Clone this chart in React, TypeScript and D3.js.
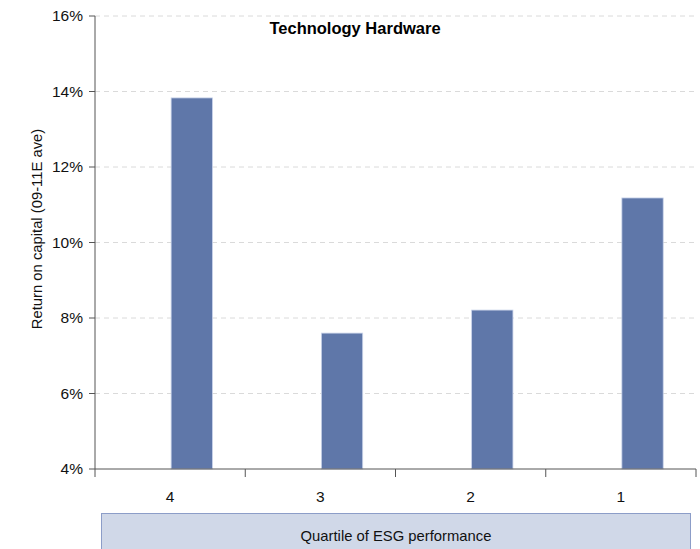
import React from 'react';
import * as d3 from 'd3';

const CATEGORIES = ['4', '3', '2', '1'];
const VALUES = [0.1383, 0.076, 0.0821, 0.1118];
const Y_TICKS = [0.04, 0.06, 0.08, 0.1, 0.12, 0.14, 0.16];

const W = 700;
const H = 549;
const PLOT = { left: 95, right: 696, top: 16, bottom: 469 };
const FONT = 'Arial, "Liberation Sans", sans-serif';

export default function App() {
    const x = d3.scaleBand().domain(CATEGORIES).range([PLOT.left, PLOT.right]);
    const y = d3.scaleLinear().domain([0.04, 0.16]).range([PLOT.bottom, PLOT.top]);
    const fmt = d3.format('.0%');
    const barW = x.bandwidth() * 0.275;
    const bounds = [...CATEGORIES.map(c => x(c)!), PLOT.right];

    return (
        <svg width={W} height={H} style={{ position: 'absolute', left: 0, top: 0, fontFamily: FONT }}>
            {/* grid */}
            {Y_TICKS.slice(1).map(t => (
                <line key={t} x1={PLOT.left} x2={PLOT.right} y1={y(t)} y2={y(t)}
                    stroke="#dadada" strokeDasharray="5,4" strokeWidth={1} />
            ))}

            {/* bars */}
            {CATEGORIES.map((c, i) => (
                <rect key={c} x={x(c)! + x.bandwidth() / 2 + 1} y={y(VALUES[i])}
                    width={barW} height={y(0.04) - y(VALUES[i])}
                    fill="#5f77a9" stroke="#c9d3ea" strokeWidth={0.8} />
            ))}

            {/* y axis */}
            <line x1={PLOT.left} x2={PLOT.left} y1={PLOT.top} y2={PLOT.bottom} stroke="#555" />
            {Y_TICKS.map(t => (
                <g key={t}>
                    <line x1={PLOT.left - 6} x2={PLOT.left} y1={y(t)} y2={y(t)} stroke="#555" />
                    <text x={PLOT.left - 12} y={y(t)} dy="0.35em" textAnchor="end" fontSize={15.5} fill="#111">{fmt(t)}</text>
                </g>
            ))}

            {/* x axis */}
            <line x1={PLOT.left} x2={PLOT.right} y1={PLOT.bottom} y2={PLOT.bottom} stroke="#555" />
            {bounds.map((b, i) => (
                <line key={i} x1={b} x2={b} y1={PLOT.bottom} y2={PLOT.bottom + 8} stroke="#555" />
            ))}
            {CATEGORIES.map(c => (
                <text key={c} x={x(c)! + x.bandwidth() / 2} y={PLOT.bottom + 33} textAnchor="middle" fontSize={15.5} fill="#111">{c}</text>
            ))}

            <text x={355} y={34} textAnchor="middle" fontSize={16.5} fontWeight="bold" fill="#000">Technology Hardware</text>

            <text transform={`translate(42, 229) rotate(-90)`} textAnchor="middle"
                fontSize={14.8} fill="#111">Return on capital (09-11E ave)</text>

            <rect x={101.5} y={513.5} width={589} height={40} fill="#d0d8e8" stroke="#8c9dc8" />
            <text x={396} y={536} dy="0.35em" textAnchor="middle" fontSize={14.8} fill="#111">Quartile of ESG performance</text>
        </svg>
    );
}
